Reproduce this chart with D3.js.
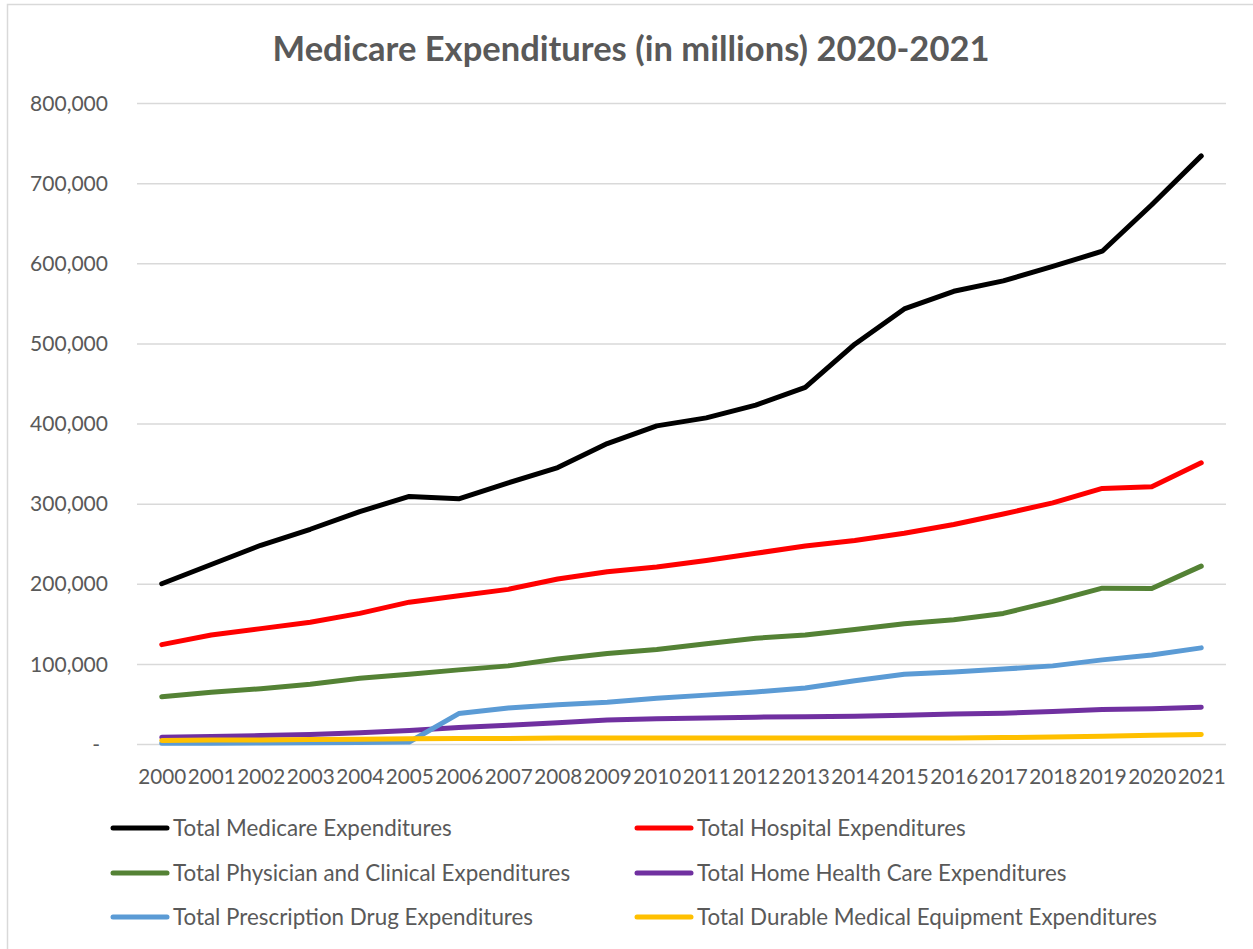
<!DOCTYPE html>
<html>
<head>
<meta charset="utf-8">
<script src="https://cdn.jsdelivr.net/npm/d3@7/dist/d3.min.js"></script>
<style>
  html, body { margin: 0; padding: 0; background: #fff; }
  svg { display: block; }
</style>
</head>
<body>
<svg id="chart" width="1253" height="949"></svg>
<script>
// ---- data (values in millions) ----
const years = ["2000","2001","2002","2003","2004","2005","2006","2007","2008","2009","2010","2011","2012","2013","2014","2015","2016","2017","2018","2019","2020","2021"];
const totalMedicare = [200000,224000,248000,268000,290000,309000,306000,326000,345000,375000,397000,407000,423000,445000,499000,543000,565000,578000,596000,615000,673000,734000];
const totalHospital = [124000,136000,144000,152000,163000,177000,185000,193000,206000,215000,221000,229000,238000,247000,254000,263000,274000,287000,301000,319000,321000,351000];
const totalPhysician = [59000,64500,69000,74500,82000,87000,92500,97500,106000,113000,118000,125000,132000,136000,143000,150000,155000,163000,178000,194500,194000,222000];
const totalHomeHealth = [8500,9500,10500,12000,14000,17000,20500,23500,26500,30000,31500,32500,33500,34000,34500,36000,37500,38500,40500,43000,44000,46000];
const totalDrug = [1000,1000,1200,1500,2000,2500,38000,45000,49000,52000,57000,61000,65000,70000,79000,87000,90000,93500,97500,105000,111000,120000];
const totalDME = [4500,5000,5000,5500,6000,6500,7000,7000,7500,7500,7500,7500,7500,7500,7500,7500,7500,8000,8700,9600,10800,12000];
const yTicks = [0,100000,200000,300000,400000,500000,600000,700000,800000];
const seriesNames = ["Total Medicare Expenditures","Total Hospital Expenditures","Total Physician and Clinical Expenditures","Total Home Health Care Expenditures","Total Prescription Drug Expenditures","Total Durable Medical Equipment Expenditures"];
const seriesColors = ["#000000","#FF0000","#548235","#7030A0","#5B9BD5","#FFC000"];
const titleText = "Medicare Expenditures (in millions) 2020-2021";

const seriesValues = [totalMedicare,totalHospital,totalPhysician,totalHomeHealth,totalDrug,totalDME];
const series = seriesNames.map((n,i)=>({name:n,color:seriesColors[i],values:seriesValues[i]}));

const svg = d3.select("#chart");
const FONT = "Lato, 'Open Sans', sans-serif";
const TXT = "#595959";

// fit font size to measured target widths (Calibri-like metrics)
function fitSize(str, weight, target){
  const t = svg.append("text").attr("font-family",FONT).attr("font-weight",weight)
    .attr("font-size",100).text(str);
  const w = t.node().getComputedTextLength();
  t.remove();
  return 100*target/w;
}
const axisSize = fitSize("800,000","normal",78);
const xSize = fitSize("2000","normal",48);
const legSize = fitSize("Total Medicare Expenditures","normal",279);
const titleSize = fitSize(titleText,"bold",717);

// border
svg.append("rect").attr("x",7.5).attr("y",4.5).attr("width",1250).attr("height",950)
  .attr("fill","none").attr("stroke","#d9d9d9").attr("stroke-width",1.5);

const margin = {left:137, right:1226, top:103, bottom:744};
const x = d3.scalePoint().domain(years).range([margin.left, margin.right]).padding(0.5);
const y = d3.scaleLinear().domain([0,800000]).range([margin.bottom, margin.top]);

// title
svg.append("text").attr("x",631).attr("y",61).attr("text-anchor","middle")
  .attr("font-family",FONT).attr("font-weight","bold").attr("font-size",titleSize)
  .attr("fill",TXT).text(titleText);

// y axis with gridlines
const fmt = d3.format(",");
const yAxis = d3.axisLeft(y).tickValues(yTicks)
  .tickSize(-(margin.right-margin.left)).tickPadding(29)
  .tickFormat(d => d===0 ? "-" : fmt(d));
const gy = svg.append("g").attr("transform",`translate(${margin.left},0)`).call(yAxis);
gy.select(".domain").remove();
gy.selectAll(".tick line").attr("stroke","#d9d9d9").attr("stroke-width",1.5);
gy.selectAll(".tick text").attr("font-family",FONT).attr("font-size",axisSize).attr("fill",TXT)
  .attr("dy","0.34em");
gy.selectAll(".tick text").filter(d=>d===0).attr("x",-37);

// x axis
const xAxis = d3.axisBottom(x).tickSize(0).tickPadding(0);
const gx = svg.append("g").attr("transform",`translate(0,${margin.bottom})`).call(xAxis);
gx.select(".domain").remove();
gx.selectAll(".tick text").attr("font-family",FONT).attr("font-size",xSize).attr("fill",TXT)
  .attr("y",40).attr("dy",0);

// lines
const line = d3.line().x((d,i)=>x(years[i])).y(d=>y(d));
svg.append("g").selectAll("path").data(series).join("path")
  .attr("d",d=>line(d.values)).attr("fill","none").attr("stroke",d=>d.color)
  .attr("stroke-width",5).attr("stroke-linejoin","round").attr("stroke-linecap","round");

// legend
const legCols = [113, 637];
const legRows = [828, 873, 917];
const lg = svg.append("g").selectAll("g").data(series).join("g")
  .attr("transform",(d,i)=>`translate(${legCols[i%2]},${legRows[Math.floor(i/2)]})`);
lg.append("line").attr("x1",0).attr("x2",54).attr("y1",0).attr("y2",0)
  .attr("stroke",d=>d.color).attr("stroke-width",5).attr("stroke-linecap","round");
lg.append("text").attr("x",60).attr("y",0).attr("dy","0.35em")
  .attr("font-family",FONT).attr("font-size",legSize).attr("fill",TXT).text(d=>d.name);
</script>
</body>
</html>
